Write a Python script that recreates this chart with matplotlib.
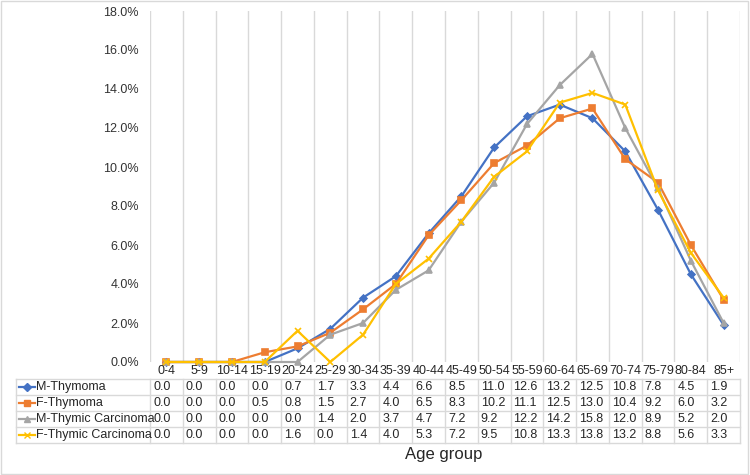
import numpy as np
import matplotlib
matplotlib.use('Agg')
from matplotlib import pyplot as plt
from matplotlib.lines import Line2D
from matplotlib.patches import Rectangle

plt.rcParams['font.family'] = ['Liberation Sans', 'DejaVu Sans']

age_groups = ['0-4', '5-9', '10-14', '15-19', '20-24', '25-29', '30-34', '35-39', '40-44',
              '45-49', '50-54', '55-59', '60-64', '65-69', '70-74', '75-79', '80-84', '85+']

series_names = ['M-Thymoma', 'F-Thymoma', 'M-Thymic Carcinoma', 'F-Thymic Carcinoma']

m_thymoma = [0.0, 0.0, 0.0, 0.0, 0.7, 1.7, 3.3, 4.4, 6.6, 8.5, 11.0, 12.6, 13.2, 12.5, 10.8, 7.8, 4.5, 1.9]
f_thymoma = [0.0, 0.0, 0.0, 0.5, 0.8, 1.5, 2.7, 4.0, 6.5, 8.3, 10.2, 11.1, 12.5, 13.0, 10.4, 9.2, 6.0, 3.2]
m_carcinoma = [0.0, 0.0, 0.0, 0.0, 0.0, 1.4, 2.0, 3.7, 4.7, 7.2, 9.2, 12.2, 14.2, 15.8, 12.0, 8.9, 5.2, 2.0]
f_carcinoma = [0.0, 0.0, 0.0, 0.0, 1.6, 0.0, 1.4, 4.0, 5.3, 7.2, 9.5, 10.8, 13.3, 13.8, 13.2, 8.8, 5.6, 3.3]

colors = ['#4472C4', '#ED7D31', '#A5A5A5', '#FFC000']
markers = ['D', 's', '^', 'x']
msizes = [3.5, 5, 4.5, 5]

all_series = [m_thymoma, f_thymoma, m_carcinoma, f_carcinoma]

W, H = 750, 475
fig = plt.figure(figsize=(7.5, 4.75), dpi=100)

def fy(py):
    # pixel row from top -> figure fraction
    return 1 - py / H

def fx(px):
    return px / W

# whole chart border
fig.patches.append(Rectangle((fx(1), fy(474)), fx(747), 473 / H, transform=fig.transFigure,
                             fill=False, edgecolor='#D9D9D9', linewidth=1))

ax = fig.add_axes([fx(150), fy(362), fx(590), 351 / H])
x = np.arange(len(age_groups))

for vals, name, c, m, ms in zip(all_series, series_names, colors, markers, msizes):
    ax.plot(x, np.array(vals) / 100, color=c, marker=m, markersize=ms, linewidth=1.6,
            markeredgewidth=1.2, label=name, clip_on=False, zorder=3)

ax.set_xlim(-0.5, len(age_groups) - 0.5)
ax.set_ylim(0, 0.18)
ax.set_yticks(np.arange(0, 0.181, 0.02))
ax.set_yticklabels([f'{v * 100:.1f}%' for v in np.arange(0, 0.181, 0.02)])
ax.tick_params(axis='y', length=0, pad=8, labelsize=9, labelcolor='#333333')
ax.set_xticks([])
for s in ax.spines.values():
    s.set_visible(False)
for b in np.arange(-0.5, len(age_groups), 1.0):
    ax.axvline(b, color='#D9D9D9', linewidth=1, zorder=1)

# data table under the plot
px_per_unit = 590 / len(age_groups)
def cat_px(i):
    return 150 + (i + 0.5) * px_per_unit

for i, g in enumerate(age_groups):
    fig.text(fx(cat_px(i)), fy(371), g, ha='center', va='center', fontsize=9, color='#262626')

row_lines = [379, 395, 411, 427, 443]
for py in row_lines:
    fig.add_artist(Line2D([fx(16), fx(740)], [fy(py), fy(py)], color='#D9D9D9', linewidth=1))
for px in [16] + [150 + k * px_per_unit for k in range(len(age_groups) + 1)]:
    fig.add_artist(Line2D([fx(px), fx(px)], [fy(379), fy(443)], color='#D9D9D9', linewidth=1))

for r, (vals, name, c, m) in enumerate(zip(all_series, series_names, colors, markers)):
    yc = 387 + 16 * r
    fig.add_artist(Line2D([fx(19), fx(35)], [fy(yc), fy(yc)], color=c, linewidth=1.6))
    fig.add_artist(Line2D([fx(27)], [fy(yc)], color=c, marker=m, markersize=4, markeredgewidth=1))
    fig.text(fx(36), fy(yc), name, ha='left', va='center', fontsize=9, color='#262626')
    for i, v in enumerate(vals):
        fig.text(fx(150 + i * px_per_unit + 3), fy(yc), f'{v:.1f}', ha='left', va='center',
                 fontsize=9, color='#262626')

fig.text(fx(444), fy(455), 'Age group', ha='center', va='center', fontsize=12, color='#262626')

fig.savefig('out.png', dpi=100)
